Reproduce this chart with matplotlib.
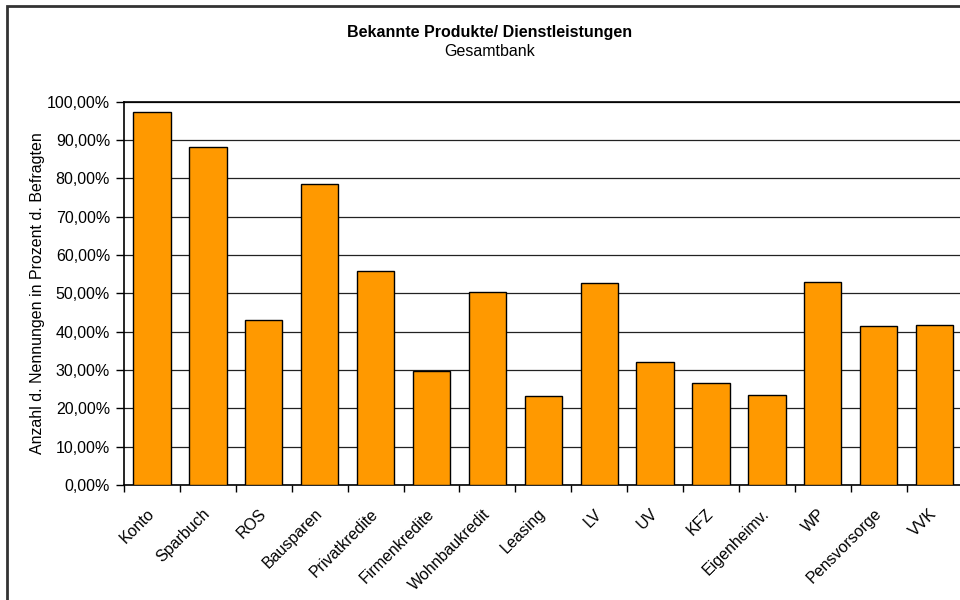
import matplotlib
matplotlib.use('Agg')
import matplotlib.pyplot as plt
from matplotlib.patches import Rectangle
from matplotlib.ticker import FuncFormatter, FixedLocator

plt.rcParams['font.family'] = ['Liberation Sans', 'DejaVu Sans']

# Produkte und Anteil der Nennungen (%)
produkte = ['Konto', 'Sparbuch', 'ROS', 'Bausparen', 'Privatkredite', 'Firmenkredite',
            'Wohnbaukredit', 'Leasing', 'LV', 'UV', 'KFZ', 'Eigenheimv.', 'WP',
            'Pensvorsorge', 'VVK']
anteile = [97.3, 88.3, 43.0, 78.4, 55.9, 29.8, 50.4, 23.2, 52.8, 32.0, 26.7, 23.6,
           53.0, 41.5, 41.8]
y_ticks = [0, 10, 20, 30, 40, 50, 60, 70, 80, 90, 100]

fig = plt.figure(figsize=(9.6, 6), dpi=100)
fig.patch.set_facecolor('white')

# Rahmen um das Diagramm
fig.patches.append(Rectangle((7 / 960, -0.1), 1.2, 1.09, transform=fig.transFigure,
                             fill=False, lw=2, edgecolor='#333333'))

ax = fig.add_axes([124 / 960, 115 / 600, 838.6 / 960, 383.3 / 600])

x = list(range(len(produkte)))
ax.bar(x, anteile, width=0.667, color='#FF9900', edgecolor='black', linewidth=1, zorder=3)

ax.set_xlim(-0.5, len(produkte) - 0.5)
ax.set_ylim(0, 100)

ax.set_yticks(y_ticks)
ax.yaxis.set_major_formatter(FuncFormatter(lambda v, p: f'{v:.2f}'.replace('.', ',') + '%'))
ax.tick_params(axis='y', direction='out', length=6, width=1, pad=4, labelsize=11.5)
ax.yaxis.grid(True, color='#222222', linewidth=0.9, zorder=0)

# Striche an den Kategoriegrenzen, Beschriftung in der Mitte
ax.xaxis.set_major_locator(FixedLocator([i - 0.5 for i in range(len(produkte) + 1)]))
ax.xaxis.set_major_formatter(FuncFormatter(lambda v, p: ''))
ax.xaxis.set_minor_locator(FixedLocator(x))
ax.set_xticklabels(produkte, minor=True, rotation=45, ha='right', va='center',
                   rotation_mode='anchor', fontsize=11.5)
ax.tick_params(axis='x', which='major', direction='out', length=5, width=1)
ax.tick_params(axis='x', which='minor', length=0, pad=19)

for side in ['right']:
    ax.spines[side].set_visible(False)
for side in ['left', 'bottom', 'top']:
    ax.spines[side].set_color('black')
    ax.spines[side].set_linewidth(1.2)

ax.set_ylabel('Anzahl d. Nennungen in Prozent d. Befragten', fontsize=11.5)
ax.yaxis.set_label_coords(-0.094, 0.5)

fig.text(490 / 960, 1 - 33 / 600, 'Bekannte Produkte/ Dienstleistungen', ha='center',
         va='center', fontsize=11.5, fontweight='bold')
fig.text(490 / 960, 1 - 52 / 600, 'Gesamtbank', ha='center', va='center', fontsize=11.5)

fig.savefig('out.png', dpi=100)
